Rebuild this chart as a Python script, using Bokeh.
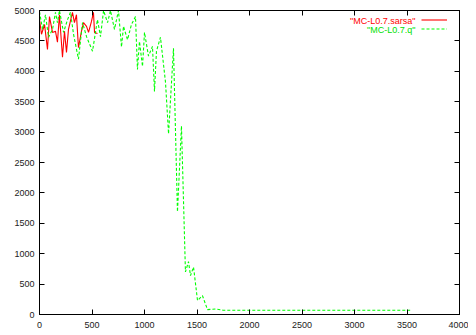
from bokeh.plotting import figure
from bokeh.models import (FixedTicker, LinearAxis, Legend, LegendItem, Label, Range1d,
                          CustomJSTickFormatter)
from bokeh.embed import file_html
from bokeh.resources import INLINE

# ---- data ----
sarsa_x = [0, 19, 48, 76, 95, 124, 152, 171, 190, 219, 238, 257, 276, 314, 333, 352,
           371, 400, 419, 448, 467, 495, 514, 524, 552]
sarsa_y = [4850, 4610, 4770, 4360, 4900, 4640, 4660, 4480, 4930, 4230, 4660, 4310, 4690,
           4970, 4800, 4930, 4390, 4660, 4800, 4740, 4640, 4820, 4970, 4640, 4620]

q_x = [0, 29, 57, 86, 124, 152, 171, 190, 229, 267, 295, 324, 371, 410, 448, 505, 552,
       581, 610, 648, 676, 714, 752, 781, 800, 838, 876, 914, 933, 952, 981, 1000, 1038,
       1076, 1095, 1114, 1152, 1200, 1229, 1276, 1314, 1352, 1390, 1419, 1438, 1467,
       1505, 1552, 1600, 1676, 1750, 2000, 2500, 3000, 3530]
q_y = [4980, 4690, 4930, 4560, 4690, 4970, 4800, 5000, 4640, 4850, 4970, 4610, 4200, 4800,
       4570, 4330, 4850, 4570, 5000, 4800, 5000, 4690, 5000, 4400, 4740, 4520, 4770, 4900,
       4030, 4490, 4080, 4640, 4250, 4410, 3670, 4330, 4560, 3820, 2970, 4380, 1690, 3100,
       700, 870, 640, 780, 230, 310, 80, 90, 70, 70, 70, 70, 70]

x_ticks = [0, 500, 1000, 1500, 2000, 2500, 3000, 3500, 4000]
y_ticks = [0, 500, 1000, 1500, 2000, 2500, 3000, 3500, 4000, 4500, 5000]

FONT = "Liberation Sans"
FS = "9px"

p = figure(width=468, height=330, output_backend="svg", toolbar_location=None,
           x_range=Range1d(0, 4000), y_range=Range1d(0, 5000),
           min_border_left=39, min_border_right=9, min_border_top=10, min_border_bottom=0)
p.xgrid.visible = False
p.ygrid.visible = False
p.outline_line_color = "black"
p.outline_line_width = 1
p.background_fill_color = "white"

for ax, ticks in ((p.xaxis[0], x_ticks), (p.yaxis[0], y_ticks)):
    ax.ticker = FixedTicker(ticks=ticks)
    ax.minor_tick_line_color = None
    ax.major_tick_in = 5
    ax.major_tick_out = 0
    ax.axis_line_color = "black"
    ax.major_tick_line_color = "black"
    ax.major_label_text_font = FONT
    ax.major_label_text_font_size = FS
    ax.major_label_text_color = "#222222"
p.xaxis[0].major_label_standoff = 7
p.yaxis[0].major_label_standoff = 5

# mirror ticks on top and right (no labels)
for loc, ticks in (("above", x_ticks), ("right", y_ticks)):
    ax = LinearAxis(ticker=FixedTicker(ticks=ticks),
                    formatter=CustomJSTickFormatter(code="return ''"))
    ax.minor_tick_line_color = None
    ax.major_tick_in = 5
    ax.major_tick_out = 0
    ax.major_label_standoff = 0
    ax.axis_line_color = "black"
    p.add_layout(ax, loc)

r1 = p.line(sarsa_x, sarsa_y, line_color="#ff0000", line_width=1.1)
r2 = p.line(q_x, q_y, line_color="#00ff00", line_width=1.1, line_dash="3 2")

legend = Legend(items=[LegendItem(label=" ", renderers=[r1]),
                       LegendItem(label=" ", renderers=[r2])],
                location=(382, 281), border_line_color=None,
                background_fill_alpha=0, glyph_width=26, glyph_height=9,
                label_height=9, label_width=0, label_standoff=0, spacing=0,
                padding=0, margin=0, label_text_font_size="4px")
p.add_layout(legend)

p.add_layout(Label(x=3581, y=4828, text='"MC-L0.7.sarsa"', text_align="right",
                   text_baseline="middle", text_color="#ff0000",
                   text_font=FONT, text_font_size=FS))
p.add_layout(Label(x=3581, y=4681, text='"MC-L0.7.q"', text_align="right",
                   text_baseline="middle", text_color="#00e000",
                   text_font=FONT, text_font_size=FS))

open("out.html", "w").write(file_html(p, INLINE))
